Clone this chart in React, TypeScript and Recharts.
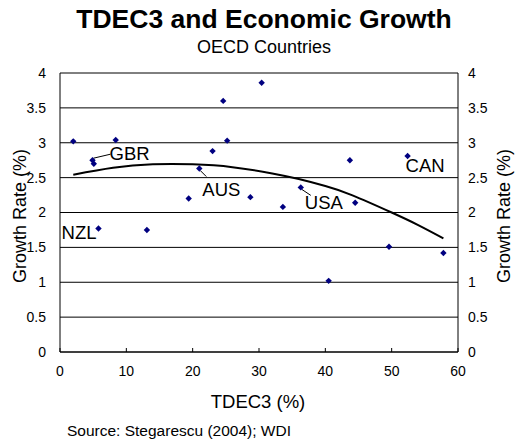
import { ComposedChart, Scatter, Line, XAxis, YAxis, CartesianGrid } from "recharts";

const tdec3 = [2.0, 4.9, 5.1, 8.4, 24.6, 25.2, 23.0, 21.0, 19.4, 28.7, 5.8, 13.1, 30.4, 43.7, 52.4, 33.6, 36.3, 44.5, 40.5, 49.6, 57.8];
const growth = [3.02, 2.75, 2.70, 3.04, 3.60, 3.03, 2.88, 2.63, 2.20, 2.22, 1.77, 1.75, 3.86, 2.75, 2.81, 2.08, 2.36, 2.14, 1.02, 1.51, 1.42];
const country = ["", "GBR", "", "", "", "", "", "AUS", "", "", "NZL", "", "", "", "CAN", "", "USA", "", "", "", ""];

// trend curve
const trendX = [2, 8, 14, 20, 26, 32, 36, 40, 44, 50, 54, 57.8];
const trendY = [2.54, 2.64, 2.69, 2.69, 2.65, 2.56, 2.48, 2.38, 2.25, 2.0, 1.82, 1.63];

const xTicks = [0, 10, 20, 30, 40, 50, 60];
const yTicks = [0, 0.5, 1, 1.5, 2, 2.5, 3, 3.5, 4];

const points = tdec3.map((x, i) => ({ x, y: growth[i], name: country[i] }));
const trend = trendX.map((x, i) => ({ x, y: trendY[i] }));

const FONT = "Arial, 'Liberation Sans', sans-serif";

// where each country label sits relative to its point
const labelPos: Record<string, { dx: number; dy: number; anchor: string; lead?: number[] }> = {
  GBR: { dx: 17, dy: 0, anchor: "start", lead: [1, -2, 18, -6] },
  AUS: { dx: 3, dy: 27, anchor: "start", lead: [1, 2, 7, 8] },
  USA: { dx: 4, dy: 22, anchor: "start", lead: [1, 2, 10, 8] },
  CAN: { dx: -2, dy: 16, anchor: "start" },
  NZL: { dx: -2, dy: 10, anchor: "end" },
};

const Diamond = (props: any) => {
  const { cx, cy, payload } = props;
  if (cx == null || cy == null) return null;
  const r = 3.2;
  const lp = payload && payload.name ? labelPos[payload.name] : null;
  return (
    <g>
      {lp && lp.lead && (
        <line
          x1={cx + lp.lead[0]}
          y1={cy + lp.lead[1]}
          x2={cx + lp.lead[2]}
          y2={cy + lp.lead[3]}
          stroke="#000"
          strokeWidth={1}
        />
      )}
      <polygon points={`${cx},${cy - r} ${cx + r},${cy} ${cx},${cy + r} ${cx - r},${cy}`} fill="#000080" />
      {lp && (
        <text x={cx + lp.dx} y={cy + lp.dy} textAnchor={lp.anchor} fontSize={18.5} fontFamily={FONT} fill="#000">
          {payload.name}
        </text>
      )}
    </g>
  );
};

const tickStyle = { fontSize: 14, fill: "#000", fontFamily: FONT };

export default function App() {
  return (
    <div style={{ position: "absolute", left: 0, top: 0, width: 515, height: 445, background: "#fff" }}>
      <ComposedChart width={515} height={445} margin={{ top: 73, right: 0, bottom: 63, left: 0 }}>
        <CartesianGrid horizontal vertical={false} stroke="#000" strokeWidth={1} strokeOpacity={1} />
        <XAxis
          type="number"
          dataKey="x"
          domain={[0, 60]}
          ticks={xTicks}
          height={30}
          stroke="#000"
          tick={tickStyle}
          tickSize={-4}
          tickMargin={18}
          allowDataOverflow
        />
        <YAxis
          type="number"
          domain={[0, 4]}
          ticks={yTicks}
          width={60}
          stroke="#000"
          tick={tickStyle}
          tickLine={false}
          tickSize={0}
          tickMargin={14}
        />
        <YAxis
          yAxisId="right"
          orientation="right"
          type="number"
          domain={[0, 4]}
          ticks={yTicks}
          width={57}
          stroke="#000"
          tick={tickStyle}
          tickLine={false}
          tickSize={0}
          tickMargin={10}
        />
        <Line
          yAxisId="right"
          data={trend}
          dataKey="y"
          type="natural"
          stroke="#000"
          strokeWidth={2}
          dot={false}
          activeDot={false}
          isAnimationActive={false}
        />
        <Scatter data={points} dataKey="y" shape={<Diamond />} isAnimationActive={false} />
      </ComposedChart>
      <svg width={515} height={445} style={{ position: "absolute", left: 0, top: 0, pointerEvents: "none" }}>
        <text x={264} y={28} textAnchor="middle" fontSize={26.5} fontWeight="bold" fontFamily={FONT}>
          TDEC3 and Economic Growth
        </text>
        <text x={264} y={53} textAnchor="middle" fontSize={18} fontFamily={FONT}>
          OECD Countries
        </text>
        <text x={258} y={408} textAnchor="middle" fontSize={18.5} fontFamily={FONT}>
          TDEC3 (%)
        </text>
        <text x={67} y={436} fontSize={15.5} fontFamily={FONT}>
          Source: Stegarescu (2004); WDI
        </text>
        <text x={26} y={216} textAnchor="middle" fontSize={18} fontFamily={FONT} transform="rotate(-90 26 216)">
          Growth Rate (%)
        </text>
        <text x={510} y={216} textAnchor="middle" fontSize={18} fontFamily={FONT} transform="rotate(-90 510 216)">
          Growth Rate (%)
        </text>
      </svg>
    </div>
  );
}
